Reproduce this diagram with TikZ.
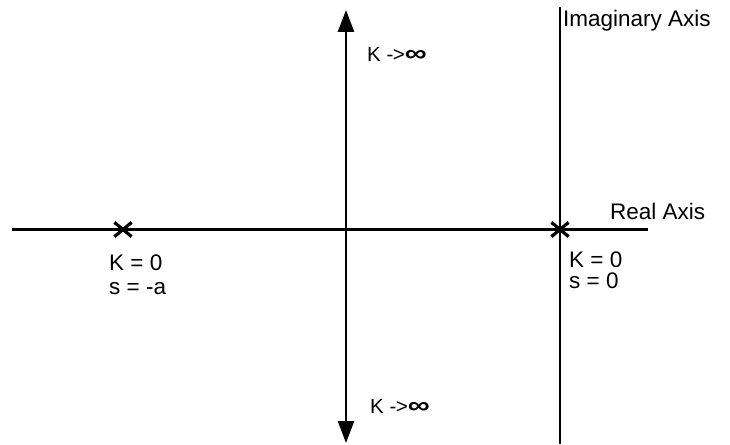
\documentclass[tikz,border=0pt]{standalone}
\usepackage{fontspec}
\setmainfont{Liberation Sans}
\usetikzlibrary{arrows.meta,shapes.misc}
\newcommand{\infsym}{\textbf{\scalebox{1.5}[1.15]{∞}}}
\tikzset{
	axis/.style={line width=2.6pt},
	pole/.style={cross out,draw,line width=3.2pt,minimum width=14pt,minimum height=11pt,inner sep=0pt},
	lbl/.style={anchor=base west,inner sep=0pt,font=\fontsize{22.5}{25}\selectfont}
}
\begin{document}
\begin{tikzpicture}[x=1pt,y=-1pt]
	\useasboundingbox (0,0) rectangle (730,444);
	\coordinate (re-w) at (12,229.5);
	\coordinate (re-e) at (648,229.5);
	\coordinate (im-n) at (560,7);
	\coordinate (im-s) at (560,444);
	\coordinate (ar-n) at (346,10);
	\coordinate (ar-s) at (346,443);
	\draw[axis](re-w)--(re-e);
	\draw[axis](im-n)--(im-s);
	\draw[axis,<->,>={Triangle[length=22pt,width=16pt]}](ar-s)--(ar-n);
	\node[pole] (p-a) at (123,229.5) {};
	\node[pole] (p-0) at (560,229.5) {};
	\node[lbl,font=\fontsize{20.5}{25}\selectfont] (k-inf-n) at (367,62) {K -\kern-0.5pt>\infsym};
	\node[lbl,font=\fontsize{20.5}{25}\selectfont] (k-inf-s) at (370,413) {K -\kern-0.5pt>\infsym};
	\node[lbl] (k-a) at (109,270) {K = 0};
	\node[lbl] (s-a) at (109,294) {s = -a};
	\node[lbl] (k-0) at (569,267) {K = 0};
	\node[lbl] (s-0) at (569,288) {s = 0};
	\node[lbl] (im-lbl) at (563,27) {Imaginary Axis};
	\node[lbl] (re-lbl) at (610,219) {Real Axis};
\end{tikzpicture}
\end{document}
